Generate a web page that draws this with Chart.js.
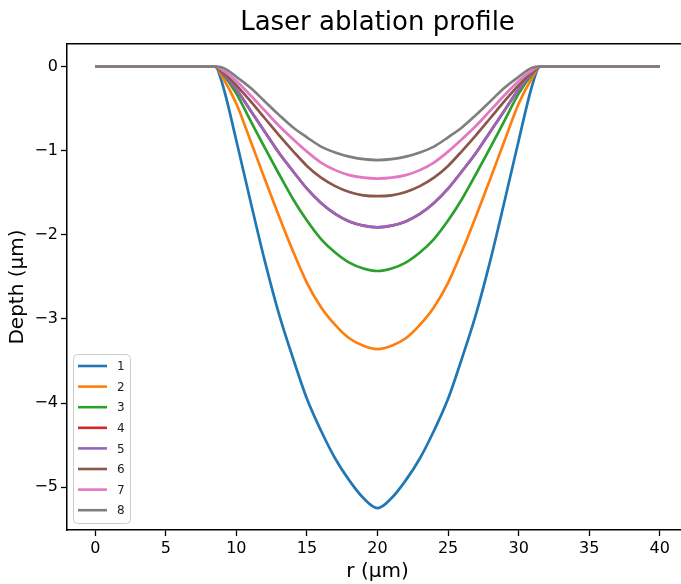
<!DOCTYPE html>
<html>
<head>
<meta charset="utf-8">
<script src="https://cdn.jsdelivr.net/npm/chart.js@4/dist/chart.umd.min.js"></script>
<style>
	html, body { margin: 0; padding: 0; background: #fff; overflow: hidden; }
	#wrap { width: 700px; height: 584px; }
</style>
</head>
<body>
<div id="wrap"><canvas id="chart" width="700" height="584"></canvas></div>
<script>
// radius (µm) and depth (µm)
const r = [0, 8.5, 9, 10, 11, 12, 13, 14, 15, 16, 17, 18, 19, 20, 21, 22, 23, 24, 25, 26, 27, 28, 29, 30, 31, 31.5, 40];
const depth1 = [0, 0, -0.20, -0.88, -1.60, -2.30, -2.93, -3.46, -3.95, -4.33, -4.66, -4.92, -5.13, -5.25, -5.13, -4.92, -4.66, -4.33, -3.95, -3.46, -2.93, -2.30, -1.60, -0.88, -0.20, 0, 0];
const depth2 = [0, 0, -0.12, -0.44, -0.88, -1.33, -1.77, -2.19, -2.57, -2.86, -3.07, -3.23, -3.32, -3.36, -3.32, -3.23, -3.07, -2.86, -2.57, -2.19, -1.77, -1.33, -0.88, -0.44, -0.12, 0, 0];
const depth3 = [0, 0, -0.08, -0.32, -0.64, -0.96, -1.27, -1.57, -1.83, -2.05, -2.21, -2.33, -2.40, -2.43, -2.40, -2.33, -2.21, -2.05, -1.83, -1.57, -1.27, -0.96, -0.64, -0.32, -0.08, 0, 0];
const depth4 = [0, 0, -0.07, -0.27, -0.52, -0.77, -1.02, -1.24, -1.45, -1.62, -1.75, -1.84, -1.89, -1.91, -1.89, -1.84, -1.75, -1.62, -1.45, -1.24, -1.02, -0.77, -0.52, -0.27, -0.07, 0, 0];
const depth5 = [0, 0, -0.07, -0.27, -0.52, -0.77, -1.02, -1.24, -1.45, -1.62, -1.75, -1.84, -1.89, -1.91, -1.89, -1.84, -1.75, -1.62, -1.45, -1.24, -1.02, -0.77, -0.52, -0.27, -0.07, 0, 0];
const depth6 = [0, 0, -0.06, -0.22, -0.41, -0.61, -0.81, -1.00, -1.18, -1.32, -1.42, -1.49, -1.53, -1.54, -1.53, -1.49, -1.42, -1.32, -1.18, -1.00, -0.81, -0.61, -0.41, -0.22, -0.06, 0, 0];
const depth7 = [0, 0, -0.04, -0.17, -0.34, -0.52, -0.70, -0.86, -1.01, -1.14, -1.23, -1.29, -1.32, -1.33, -1.32, -1.29, -1.23, -1.14, -1.01, -0.86, -0.70, -0.52, -0.34, -0.17, -0.04, 0, 0];
const depth8 = [0, 0, -0.01, -0.12, -0.25, -0.41, -0.57, -0.72, -0.84, -0.95, -1.02, -1.07, -1.10, -1.11, -1.10, -1.07, -1.02, -0.95, -0.84, -0.72, -0.57, -0.41, -0.25, -0.12, -0.01, 0, 0];

const labels = ['1', '2', '3', '4', '5', '6', '7', '8'];
const depths = [depth1, depth2, depth3, depth4, depth5, depth6, depth7, depth8];
const colors = ['#1f77b4', '#ff7f0e', '#2ca02c', '#d62728', '#9467bd', '#8c564b', '#e377c2', '#7f7f7f'];
const xTicks = [0, 5, 10, 15, 20, 25, 30, 35, 40];
const yTicks = [0, -1, -2, -3, -4, -5];

const font = 'DejaVu Sans';
const minus = (v) => v < 0 ? '\u2212' + Math.abs(v) : String(v);

// legend drawn inside the axes, lower left, like matplotlib
const boxLegend = {
	id: 'boxLegend',
	afterDatasetsDraw(chart) {
		const { ctx, chartArea } = chart;
		const x = chartArea.left + 6, w = 57, rowH = 20.6;
		const h = 169, y = chartArea.bottom - 7 - h;
		ctx.save();
		ctx.beginPath();
		ctx.roundRect(x + 0.5, y + 0.5, w, h, 4);
		ctx.fillStyle = 'rgba(255,255,255,0.8)';
		ctx.fill();
		ctx.strokeStyle = '#cccccc';
		ctx.lineWidth = 1;
		ctx.stroke();
		ctx.font = '12px ' + font;
		ctx.textBaseline = 'middle';
		ctx.lineWidth = 2.6;
		chart.data.datasets.forEach((ds, i) => {
			const ly = y + 12 + i * rowH;
			ctx.strokeStyle = ds.borderColor;
			ctx.beginPath();
			ctx.moveTo(x + 5, ly);
			ctx.lineTo(x + 34, ly);
			ctx.stroke();
			ctx.fillStyle = '#222';
			ctx.fillText(ds.label, x + 44, ly + 1);
		});
		ctx.restore();
	}
};

new Chart(document.getElementById('chart'), {
	type: 'line',
	data: {
		datasets: depths.map((d, i) => ({
			label: labels[i],
			data: r.map((x, j) => ({ x: x, y: d[j] })),
			borderColor: colors[i],
			backgroundColor: colors[i],
			borderWidth: 2.7,
			pointRadius: 0,
			cubicInterpolationMode: 'monotone',
			order: depths.length - 1 - i,
		}))
	},
	options: {
		responsive: false,
		animation: false,
		devicePixelRatio: 1,
		layout: { padding: { left: 0, right: 12, top: 0, bottom: 0 } },
		plugins: { legend: { display: false }, tooltip: { enabled: false } },
		scales: {
			x: {
				type: 'linear',
				position: 'bottom',
				min: -2, max: 42,
				afterBuildTicks: (s) => { s.ticks = xTicks.map((v) => ({ value: v })); },
				afterFit: (s) => { s.height = 54; },
				ticks: { color: '#000', font: { family: font, size: 16 }, padding: 3, maxRotation: 0 },
				grid: { drawOnChartArea: false, drawTicks: true, tickLength: 6, tickWidth: 1.3, tickColor: '#000' },
				border: { display: true, color: '#000', width: 1.5 },
				title: { display: true, text: 'r (µm)', color: '#000', font: { family: font, size: 20 }, padding: { top: 0, bottom: 0 } }
			},
			x2: {
				type: 'linear',
				position: 'top',
				min: -2, max: 42,
				afterFit: (s) => { s.height = 44; },
				ticks: { display: false },
				grid: { drawOnChartArea: false, drawTicks: false },
				border: { display: true, color: '#000', width: 1.5 },
				title: { display: true, text: 'Laser ablation profile', color: '#000', font: { family: font, size: 26 }, padding: { top: 8, bottom: 0 } }
			},
			y: {
				type: 'linear',
				min: -5.51, max: 0.27,
				afterBuildTicks: (s) => { s.ticks = yTicks.map((v) => ({ value: v })); },
				afterFit: (s) => { s.width = 67; },
				ticks: { color: '#000', font: { family: font, size: 16 }, padding: 3, callback: minus },
				grid: { drawOnChartArea: false, drawTicks: true, tickLength: 6, tickWidth: 1.3, tickColor: '#000' },
				border: { display: true, color: '#000', width: 1.5 },
				title: { display: true, text: 'Depth (µm)', color: '#000', font: { family: font, size: 20 }, padding: { top: 6, bottom: 0 } }
			}
		}
	},
	plugins: [boxLegend]
});
</script>
</body>
</html>
